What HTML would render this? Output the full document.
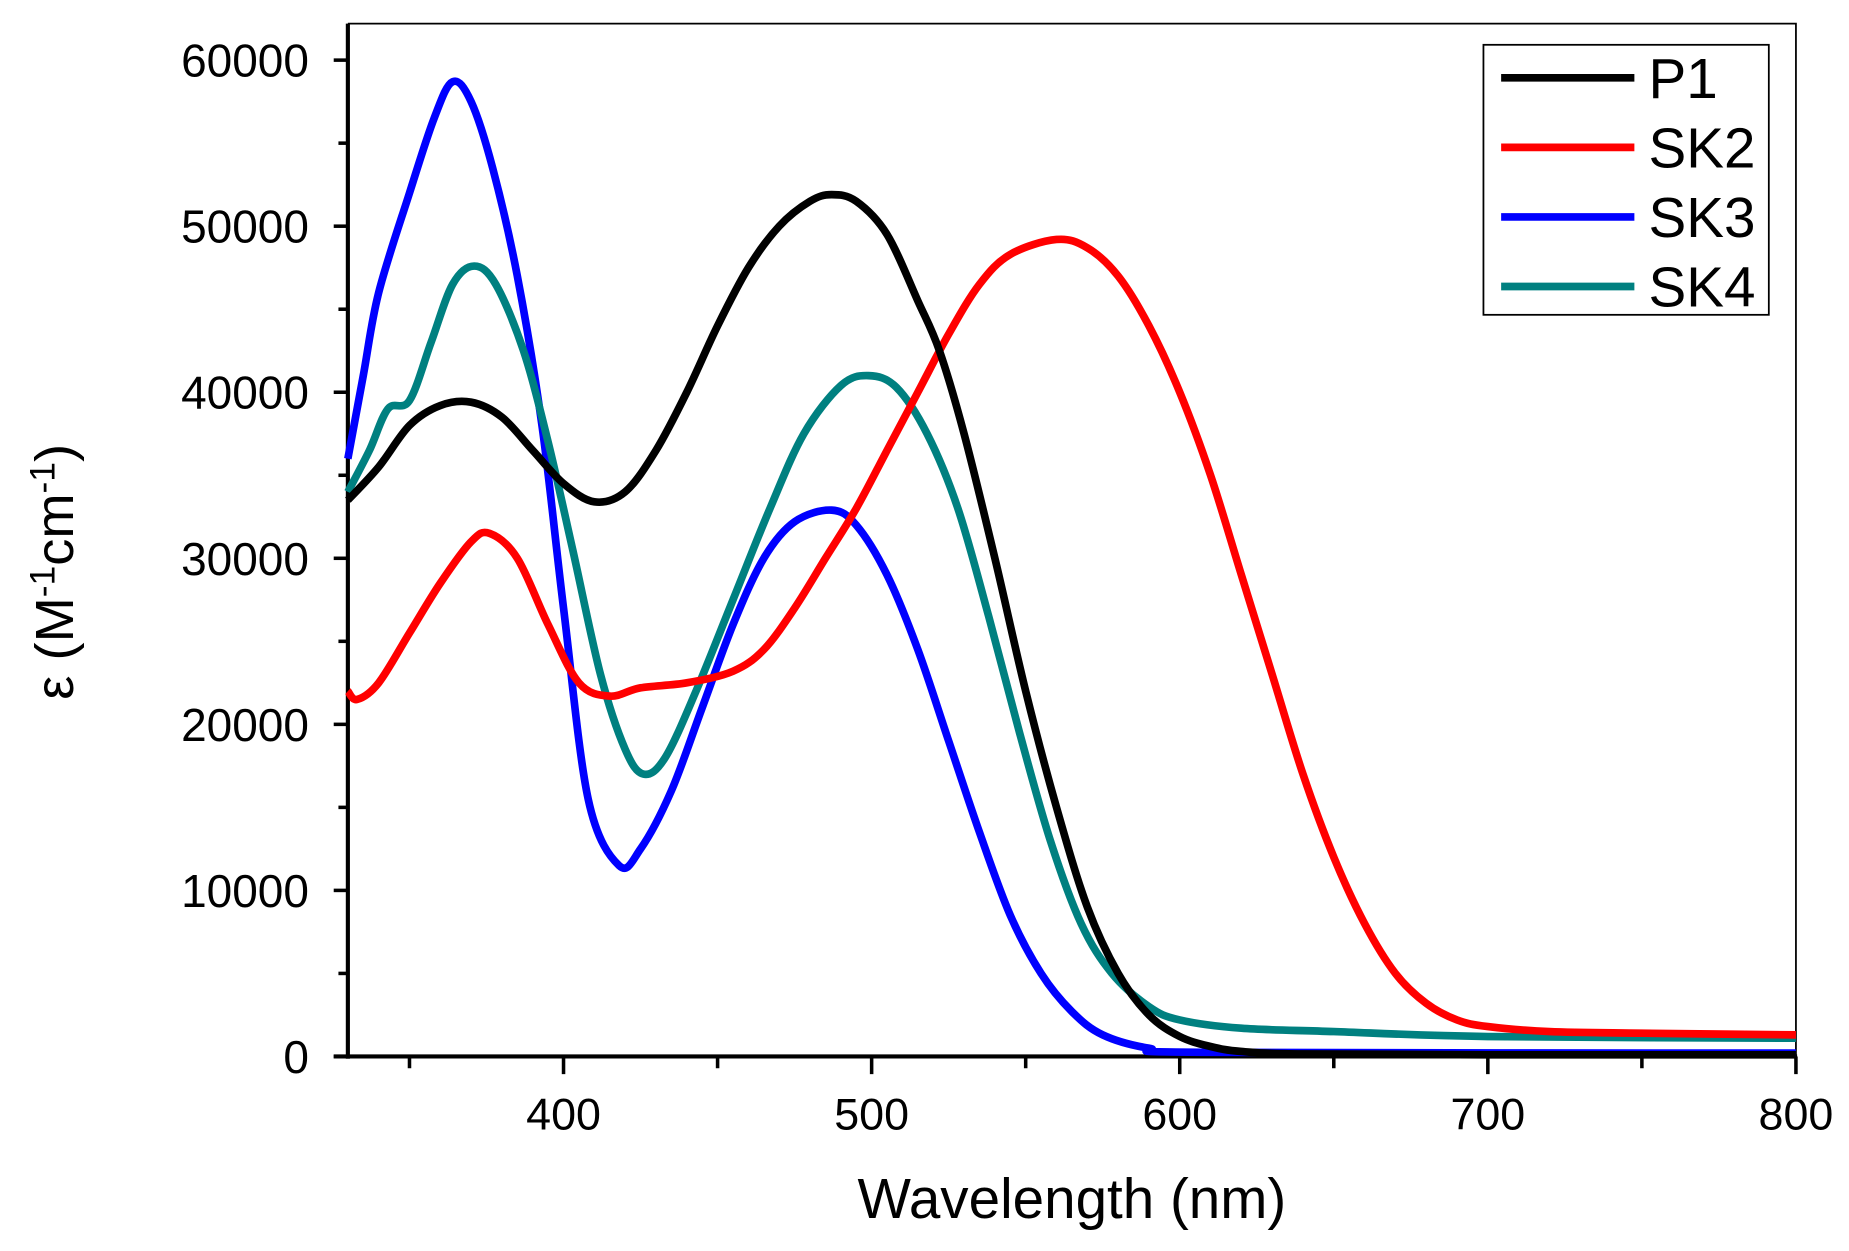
<!DOCTYPE html>
<html><head><meta charset="utf-8"><style>
html,body{margin:0;padding:0;background:#fff;}
svg{display:block;font-family:"Liberation Sans",Arial,sans-serif;}
</style></head><body>
<svg id="chart" width="1849" height="1251" viewBox="0 0 1568 1061" preserveAspectRatio="none" xmlns="http://www.w3.org/2000/svg">
<g id="axes"></g>
<g id="series"></g>
<g id="legend"></g>
</svg>
<script>
const xTicks=[400,500,600,700,800];
const yTicks=[0,10000,20000,30000,40000,50000,60000];
const seriesNames=["P1","SK2","SK3","SK4"];
const seriesColors=["#000000","#ff0000","#0000ff","#008080"];
const p1X=[330,340,350,360,370,380,390,400,410,420,430,440,450,460,470,480,487,495,505,515,522,530,540,550,560,570,580,590,600,610,620,640,700,800];
const p1Y=[33500,35500,38000,39200,39400,38500,36500,34500,33400,34000,36500,40000,44000,47500,50000,51500,51900,51500,49500,45500,42500,37500,30000,22000,15000,9000,5000,2500,1200,600,300,150,100,100];
const sk2X=[330,333,340,350,360,370,376,385,395,405,415,425,440,455,465,475,485,495,505,515,525,535,545,560,570,580,590,600,610,620,630,640,650,660,670,680,690,700,720,750,800];
const sk2Y=[22000,21500,22500,25500,28500,31000,31500,30000,26000,22500,21700,22200,22500,23200,24500,27000,30000,33000,36500,40000,43500,46500,48300,49200,48700,47000,44000,40000,35000,29000,23000,17000,12000,8000,5000,3200,2200,1800,1500,1400,1300];
const sk3X=[330,335,340,350,358,364,370,377,385,393,400,408,418,425,435,445,455,465,475,487,495,505,515,525,535,545,555,565,575,590,610,800];
const sk3Y=[36000,41000,46000,52000,56500,58700,57500,53500,47000,38000,27000,15500,11500,12500,16000,21000,26000,30000,32200,32900,32000,29000,24500,19000,13500,8500,5000,2700,1300,500,250,200];
const sk4X=[330,337,343,350,357,364,371,378,387,395,403,412,420,426,433,443,455,467,478,490,499,508,518,528,538,548,558,568,578,590,600,620,650,700,800];
const sk4Y=[34000,36500,39000,39500,43000,46500,47600,46500,42500,37000,30500,23000,18500,17000,18000,22000,27500,33000,37500,40400,41000,40300,37500,33000,26500,19500,13000,8000,5000,3000,2200,1700,1500,1200,1100];

const NS="http://www.w3.org/2000/svg";
const X0=295,X1=1523,Y0=896,YT=20;
const xMin=330,xMax=800;
function sx(v){return X0+(v-xMin)/(xMax-xMin)*(X1-X0);}
function sy(v){return Y0-v/60000*(Y0-51);}
function mk(tag,attrs,parent){const e=document.createElementNS(NS,tag);for(const k in attrs)e.setAttribute(k,attrs[k]);parent.appendChild(e);return e;}
const axes=document.getElementById('axes');
let f=mk('path',{d:`M${X0},${YT}H${X1}V${Y0}`,fill:'none',stroke:'#000','stroke-width':1.5},axes);


let la=mk('line',{x1:X0,y1:YT,x2:X0,y2:Y0+2,stroke:'#000','stroke-width':3.5},axes);


let ba=mk('line',{x1:X0-12,y1:Y0,x2:X1+1,y2:Y0,stroke:'#000','stroke-width':3.5},axes);


for(let v=350;v<=800;v+=50){
  const major=v%100===0;
  const t=mk('line',{x1:sx(v),y1:Y0,x2:sx(v),y2:Y0+(major?15:10),stroke:'#000','stroke-width':3},axes);
  
  
}
xTicks.forEach(v=>{
  const t=mk('text',{x:sx(v),y:Y0+62,'text-anchor':'middle','font-size':38},axes);
  t.textContent=v;
  
  
});
for(let v=0;v<=60000;v+=5000){
  const major=v%10000===0;
  const t=mk('line',{x1:X0,y1:sy(v),x2:X0-(major?12:8),y2:sy(v),stroke:'#000','stroke-width':3},axes);
  
  
}
yTicks.forEach(v=>{
  const t=mk('text',{x:X0-33,y:sy(v)+14,'text-anchor':'end','font-size':39},axes);
  t.textContent=v;
  
  
});
let xt=mk('text',{x:909,y:1033,'text-anchor':'middle','font-size':48},axes);
xt.textContent='Wavelength (nm)';


let yt=mk('text',{x:0,y:0,'text-anchor':'middle','font-size':46,transform:'translate(62,485) rotate(-90)'},axes);
yt.innerHTML='ε (M<tspan dy="-16" font-size="30">-1</tspan><tspan dy="16">cm</tspan><tspan dy="-16" font-size="30">-1</tspan><tspan dy="16">)</tspan>';


const sg=document.getElementById('series');
const allX=[p1X,sk2X,sk3X,sk4X],allY=[p1Y,sk2Y,sk3Y,sk4Y];
const order=[2,3,1,0];
order.forEach(i=>{
  const xs=allX[i],ys=allY[i];
  const pts=xs.map((x,j)=>[sx(x),sy(ys[j])]);
  let d=`M${pts[0][0]},${pts[0][1]}`;
  for(let j=0;j<pts.length-1;j++){
    const p0=pts[Math.max(0,j-1)],p1=pts[j],p2=pts[j+1],p3=pts[Math.min(pts.length-1,j+2)];
    const c1=[p1[0]+(p2[0]-p0[0])/6,p1[1]+(p2[1]-p0[1])/6];
    const c2=[p2[0]-(p3[0]-p1[0])/6,p2[1]-(p3[1]-p1[1])/6];
    d+=`C${c1[0]},${c1[1]} ${c2[0]},${c2[1]} ${p2[0]},${p2[1]}`;
  }
  const p=mk('path',{d:d,fill:'none',stroke:seriesColors[i],'stroke-width':6.5,'stroke-linejoin':'round'},sg);
  
  
});
const lg=document.getElementById('legend');
let lb=mk('rect',{x:1258,y:38,width:242,height:229,fill:'#fff',stroke:'#000','stroke-width':1.5},lg);


seriesNames.forEach((n,i)=>{
  const y=66+i*59;
  const l=mk('line',{x1:1273,y1:y,x2:1386,y2:y,stroke:seriesColors[i],'stroke-width':6.5},lg);
  
  
  const t=mk('text',{x:1398,y:y+17,'font-size':48},lg);
  t.textContent=n;
  
  
});
</script>
</body></html>
